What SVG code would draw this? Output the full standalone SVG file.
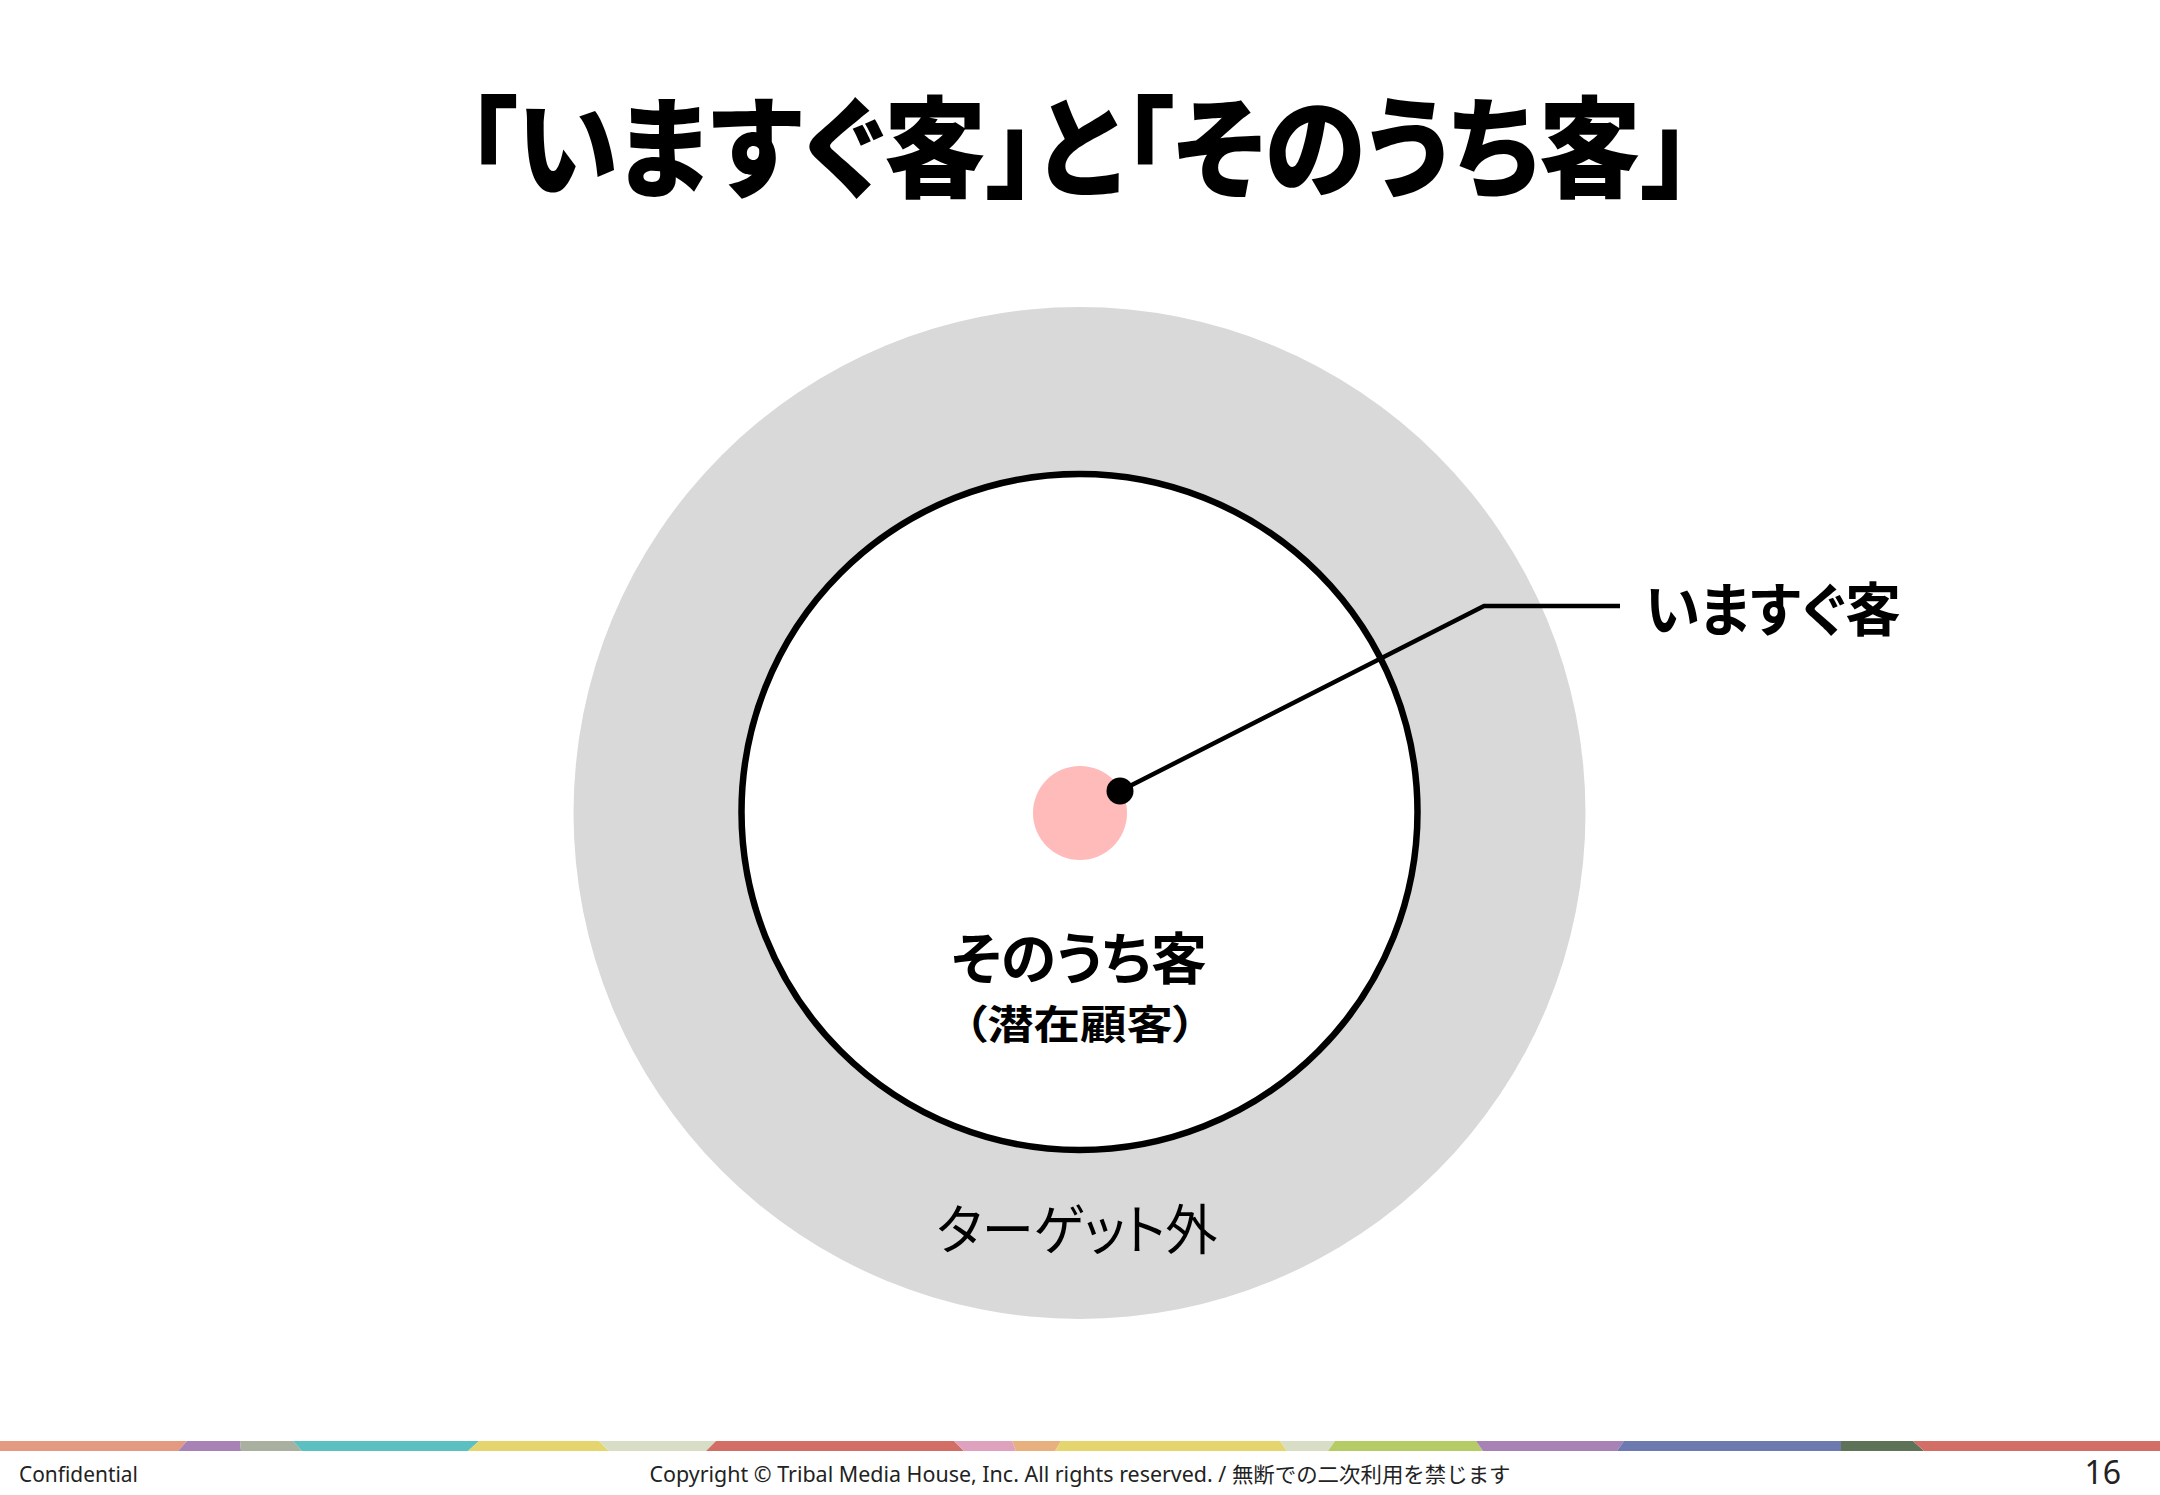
<svg xmlns="http://www.w3.org/2000/svg" width="2160" height="1495" viewBox="0 0 2160 1495">
<style>
.jp{font-family:"Noto Sans CJK JP","Noto Sans",sans-serif;font-feature-settings:"palt";}
.b{font-weight:bold;fill:#000;}
.foot{font-family:"Noto Sans","Noto Sans CJK JP",sans-serif;font-size:21px;fill:#222;}
</style>
<rect width="2160" height="1495" fill="#fff"/>
<g id="title"><text class="jp" x="1079" y="189" font-size="110" font-weight="900" fill="#000" text-anchor="middle" textLength="1226" lengthAdjust="spacingAndGlyphs">「いますぐ客」と「そのうち客」</text></g>
<g id="outer"><circle cx="1079.5" cy="813" r="506" fill="#D9D9D9"/>
<text class="jp" x="1077" y="1250" font-size="54" text-anchor="middle" textLength="281" lengthAdjust="spacingAndGlyphs" fill="#000">ターゲット外</text></g>
<g id="inner"><circle cx="1079.5" cy="812" r="338" fill="#fff" stroke="#000" stroke-width="6.5"/>
<text class="jp b" x="1079" y="979" font-size="56" font-weight="900" text-anchor="middle" textLength="256" lengthAdjust="spacingAndGlyphs">そのうち客</text>
<text class="jp b" x="1080" y="1039" font-size="40" font-weight="900" text-anchor="middle" textLength="232" lengthAdjust="spacingAndGlyphs">（潜在顧客）</text></g>
<g id="core"><circle cx="1080" cy="813" r="47" fill="#FFBABA"/></g>
<g id="connectors"><polyline points="1120,791 1484,606 1620,606" fill="none" stroke="#000" stroke-width="4.5"/><circle cx="1120" cy="791" r="13.5" fill="#000"/></g>
<g id="label"><text class="jp b" x="1645" y="631" font-size="58" font-weight="900" textLength="256" lengthAdjust="spacingAndGlyphs">いますぐ客</text></g>
<g id="bar">
<polygon points="0,1441 187,1441 178,1451 0,1451" fill="#E39A80"/>
<polygon points="187,1441 240,1441 241,1451 178,1451" fill="#A682B5"/>
<polygon points="240,1441 293,1441 302,1451 241,1451" fill="#A9B09F"/>
<polygon points="293,1441 479,1441 468,1451 302,1451" fill="#5CBFC0"/>
<polygon points="479,1441 599,1441 609,1451 468,1451" fill="#E4D56E"/>
<polygon points="599,1441 716,1441 706,1451 609,1451" fill="#D8DEC6"/>
<polygon points="716,1441 954,1441 964,1451 706,1451" fill="#D36E66"/>
<polygon points="954,1441 1012,1441 1016,1451 964,1451" fill="#DFA2BE"/>
<polygon points="1012,1441 1061,1441 1055,1451 1016,1451" fill="#E8B07E"/>
<polygon points="1061,1441 1280,1441 1287,1451 1055,1451" fill="#E4D56E"/>
<polygon points="1280,1441 1335,1441 1328,1451 1287,1451" fill="#D8DEC6"/>
<polygon points="1335,1441 1476,1441 1483,1451 1328,1451" fill="#B5CC66"/>
<polygon points="1476,1441 1624,1441 1617,1451 1483,1451" fill="#A682B5"/>
<polygon points="1624,1441 1841,1441 1841,1451 1617,1451" fill="#6C7AB0"/>
<polygon points="1841,1441 1913,1441 1924,1451 1841,1451" fill="#5E7258"/>
<polygon points="1913,1441 2160,1441 2160,1451 1924,1451" fill="#D36E66"/>
</g>
<g id="footer">
<text class="foot" x="19" y="1482" textLength="119" lengthAdjust="spacingAndGlyphs">Confidential</text>
<text class="foot" x="1080" y="1482" text-anchor="middle" textLength="861" lengthAdjust="spacingAndGlyphs">Copyright © Tribal Media House, Inc. All rights reserved. / 無断での二次利用を禁じます</text>
<text class="foot" x="2121" y="1484" style="font-size:32px" text-anchor="end">16</text>
</g>
</svg>
